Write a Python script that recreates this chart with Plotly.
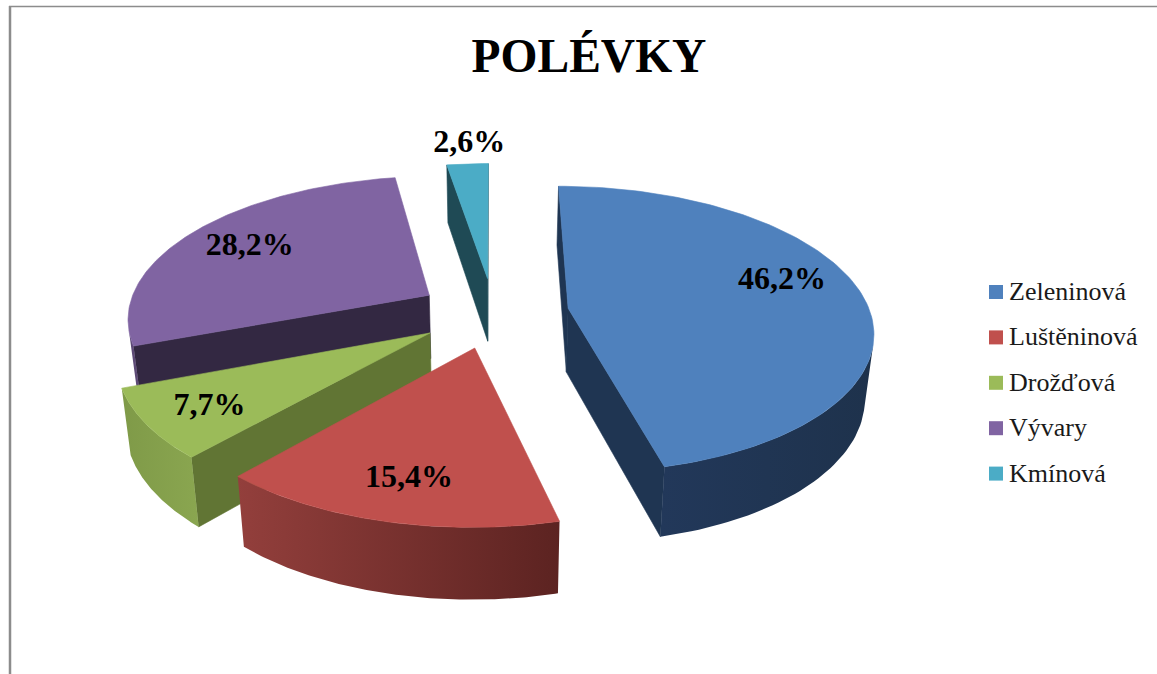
import numpy as np
import plotly.graph_objects as go

# data
CATEGORIES = ["Zeleninová", "Luštěninová", "Drožďová", "Vývary", "Kmínová"]
VALUES = [46.2, 15.4, 7.7, 28.2, 2.6]

# office palette: top face, radial wall, rim gradient left/right
TOP_COLORS = ["#4f81bd", "#c0504d", "#9bbb59", "#8064a2", "#4bacc6"]
WALL_COLORS = ["#1f3552", "#5c2321", "#617534", "#332842", "#1f4a55"]
RIM_LEFT = ["#22385a", "#933f3c", "#7f9a48", "#5d4a76", "#1f4a55"]
RIM_RIGHT = ["#1e324c", "#5c2321", "#8aa650", "#5d4a76", "#1f4a55"]

# label placement along the slice: radius fraction, angle offset
LABEL_RADIUS = [0.765, 0.78, 0.80, 0.75, 1.205]
LABEL_TURN = [-8, -0.6, -1, 0, 1]
DRAW_ORDER = [4, 3, 0, 2, 1]

# fake 3d view
WIDTH, HEIGHT = 1157, 674
CX, CY = 493.5, 312.5
RX, RY = 302, 141.2
PERSP = 0.1476
DEPTH = 64
CONVERGE = 0.024
EXPLODE = 0.25

# manual legend column
LEGEND_X = 996
LEGEND_TEXT_X = 1009
LEGEND_TOP = 292
LEGEND_STEP = 45.4


def project(px, py, lowered=False):
    d = 1 + PERSP * py
    sx = CX + RX * px / d
    sy = CY - RY * py / d
    if lowered:
        # verticals lean towards the middle as they go down
        sx = CX + (sx - CX) * (1 - CONVERGE)
        sy = sy + DEPTH / d**0.6
    return sx, sy


def signed_area(pts):
    xs, ys = zip(*pts)
    return 0.5 * sum(xs[i] * ys[(i + 1) % len(pts)] - xs[(i + 1) % len(pts)] * ys[i] for i in range(len(pts)))


def polygon(pts, color, gradient=None):
    xs, ys = zip(*pts)
    kw = dict(line=dict(width=0.6, color=color), fillcolor=color)
    if gradient:
        kw = dict(
            line=dict(width=0),
            fillgradient=dict(type="horizontal", colorscale=[[0, gradient[0]], [1, gradient[1]]]),
        )
    return go.Scatter(
        x=list(xs) + [xs[0]],
        y=list(ys) + [ys[0]],
        mode="lines",
        fill="toself",
        hoverinfo="skip",
        showlegend=False,
        **kw,
    )


fig = go.Figure()

shares = np.array(VALUES) / sum(VALUES) * 360
ends = np.cumsum(shares)
starts = ends - shares

label_x, label_y, label_text = [], [], []
for i in DRAW_ORDER:
    mid = np.radians((starts[i] + ends[i]) / 2)
    ox, oy = EXPLODE * np.sin(mid), EXPLODE * np.cos(mid)
    angles = np.radians(np.linspace(starts[i], ends[i], 120))
    rim = [(ox + np.sin(t), oy + np.cos(t)) for t in angles]

    top = [project(*p) for p in rim]
    low = [project(*p, lowered=True) for p in rim]
    apex_top = project(ox, oy)
    apex_low = project(ox, oy, lowered=True)

    # radial walls, only those facing the viewer
    for a, b, c, d in [(apex_top, top[0], low[0], apex_low), (top[-1], apex_top, apex_low, low[-1])]:
        if signed_area([a, b, c, d]) < 0:
            fig.add_trace(polygon([a, b, c, d], WALL_COLORS[i]))

    visible = [k for k in range(len(top) - 1) if signed_area([top[k], top[k + 1], low[k + 1], low[k]]) < 0]
    if visible:
        k0, k1 = visible[0], visible[-1] + 1
        fig.add_trace(polygon(top[k0:k1 + 1] + low[k0:k1 + 1][::-1], WALL_COLORS[i], (RIM_LEFT[i], RIM_RIGHT[i])))

    fig.add_trace(polygon([apex_top] + top, TOP_COLORS[i]))

    lab = mid + np.radians(LABEL_TURN[i])
    lx, ly = project(ox + LABEL_RADIUS[i] * np.sin(lab), oy + LABEL_RADIUS[i] * np.cos(lab))
    label_x.append(lx)
    label_y.append(ly)
    label_text.append(f"{VALUES[i]:.1f}%".replace(".", ","))

fig.add_trace(
    go.Scatter(
        x=label_x,
        y=label_y,
        text=label_text,
        mode="text",
        textposition="middle center",
        textfont=dict(family="Liberation Serif", size=32, color="black", weight="bold"),
        hoverinfo="skip",
        showlegend=False,
    )
)

# legend column, the built-in legend keeps too wide a gap before the text
legend_y = [LEGEND_TOP + LEGEND_STEP * k for k in range(len(CATEGORIES))]
fig.add_trace(
    go.Scatter(
        x=[LEGEND_X] * len(CATEGORIES),
        y=legend_y,
        mode="markers",
        marker=dict(symbol="square", size=14, color=TOP_COLORS),
        hoverinfo="skip",
        showlegend=False,
    )
)
fig.add_trace(
    go.Scatter(
        x=[LEGEND_TEXT_X] * len(CATEGORIES),
        y=[y + 1.5 for y in legend_y],
        text=CATEGORIES,
        mode="text",
        textposition="middle right",
        textfont=dict(family="Liberation Serif", size=26, color="#1a1a1a"),
        hoverinfo="skip",
        showlegend=False,
    )
)

fig.update_layout(
    width=WIDTH,
    height=HEIGHT,
    margin=dict(l=0, r=0, t=0, b=0),
    paper_bgcolor="white",
    plot_bgcolor="white",
    showlegend=False,
    title=dict(
        text="<b>POLÉVKY</b>",
        x=589 / WIDTH,
        xanchor="center",
        y=1 - 55 / HEIGHT,
        yanchor="middle",
        font=dict(family="Liberation Serif", size=47.5, color="black"),
    ),
    xaxis=dict(range=[0, WIDTH], visible=False),
    yaxis=dict(range=[HEIGHT, 0], visible=False),
    shapes=[
        dict(type="line", x0=10, x1=10, y0=6, y1=HEIGHT, line=dict(color="#8c8c8c", width=2.5)),
        dict(type="line", x0=9, x1=WIDTH, y0=6.5, y1=6.5, line=dict(color="#8c8c8c", width=1.5)),
    ],
)

fig.write_html(
    "out.html",
    config=dict(displayModeBar=False),
    post_script="document.body.style.margin='0';",
)
